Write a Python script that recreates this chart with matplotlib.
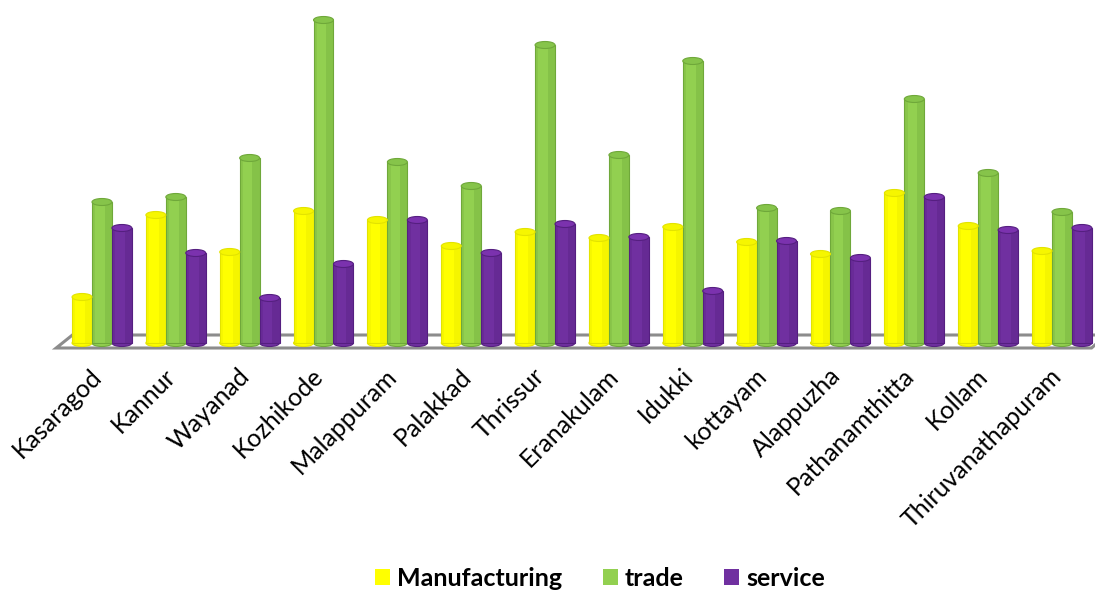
import matplotlib
matplotlib.use("Agg")
import matplotlib.pyplot as plt
import matplotlib.transforms as mtransforms
from matplotlib.patches import Ellipse, Polygon, Patch
import numpy as np

districts = ["Kasaragod", "Kannur", "Wayanad", "Kozhikode", "Malappuram", "Palakkad",
             "Thrissur", "Eranakulam", "Idukki", "kottayam", "Alappuzha",
             "Pathanamthitta", "Kollam", "Thiruvanathapuram"]
manufacturing = [46, 128, 91, 132, 123, 97, 111, 105, 116, 101, 89, 150, 117, 92]
trade = [141, 146, 185, 323, 181, 157, 298, 188, 282, 135, 132, 244, 170, 131]
service = [115, 90, 45, 79, 123, 90, 119, 106, 52, 102, 85, 146, 113, 115]

series = [("Manufacturing", manufacturing, "#FFFF00", "#E3E300", "#F6F600"),
          ("trade", trade, "#92D050", "#6FA83A", "#86C44A"),
          ("service", service, "#7030A0", "#551F80", "#7B32AE")]

fig = plt.figure(figsize=(10.95, 5.9), dpi=100)
ax = fig.add_axes([55 / 1095, (590 - 353) / 590, 1040 / 1095, 340 / 590])
ax.set_xlim(-0.636, 13.447)
ax.set_ylim(-10, 330)

x = np.arange(len(districts))
w = 0.27
off = 0.27

# floor
floor = Polygon([[-0.62, -5], [13.40, -5], [13.60, 8], [-0.40, 8]], closed=True,
                facecolor="white", edgecolor="#8C8C8C", lw=2.2, zorder=1, clip_on=False)
ax.add_patch(floor)

eh = 7
for k, (name, vals, col, dark, cap) in enumerate(series):
    xs = x + (k - 1) * off
    ax.bar(xs, vals, width=w, color=col, edgecolor=dark, linewidth=0.8, zorder=3)
    # shading stripes
    ax.bar(xs + w * 0.32, vals, width=w * 0.36, color=dark, alpha=0.35, linewidth=0, zorder=3.1)
    ax.bar(xs - w * 0.42, vals, width=w * 0.16, color=dark, alpha=0.25, linewidth=0, zorder=3.1)
    for xi, v in zip(xs, vals):
        ax.add_patch(Ellipse((xi, 0), w, eh, facecolor=col, edgecolor=dark, lw=0.8, zorder=2.9))
        ax.add_patch(Ellipse((xi, v), w, eh, facecolor=cap, edgecolor=dark, lw=0.8, zorder=3.2))

ax.set_xticks(x)
ax.set_xticklabels(districts, rotation=45, ha="right", va="top", rotation_mode="anchor",
                   fontsize=18, family="Lato")
ax.tick_params(axis="x", length=0, pad=8)
shift = mtransforms.ScaledTranslation(-12 / 100, 0, fig.dpi_scale_trans)
for lab in ax.get_xticklabels():
    lab.set_transform(lab.get_transform() + shift)
ax.set_yticks([])
for s in ax.spines.values():
    s.set_visible(False)

handles = [Patch(facecolor=c, edgecolor="none", label=n) for n, _, c, _, _ in series]
fig.legend(handles=handles, loc="center", bbox_to_anchor=(600 / 1095, 1 - 578 / 590),
           ncol=3, frameon=False, prop={"family": "Lato", "weight": "bold", "size": 18},
           handlelength=0.6, handleheight=0.6, handletextpad=0.3, columnspacing=1.6)

fig.savefig("out.png", dpi=100)
